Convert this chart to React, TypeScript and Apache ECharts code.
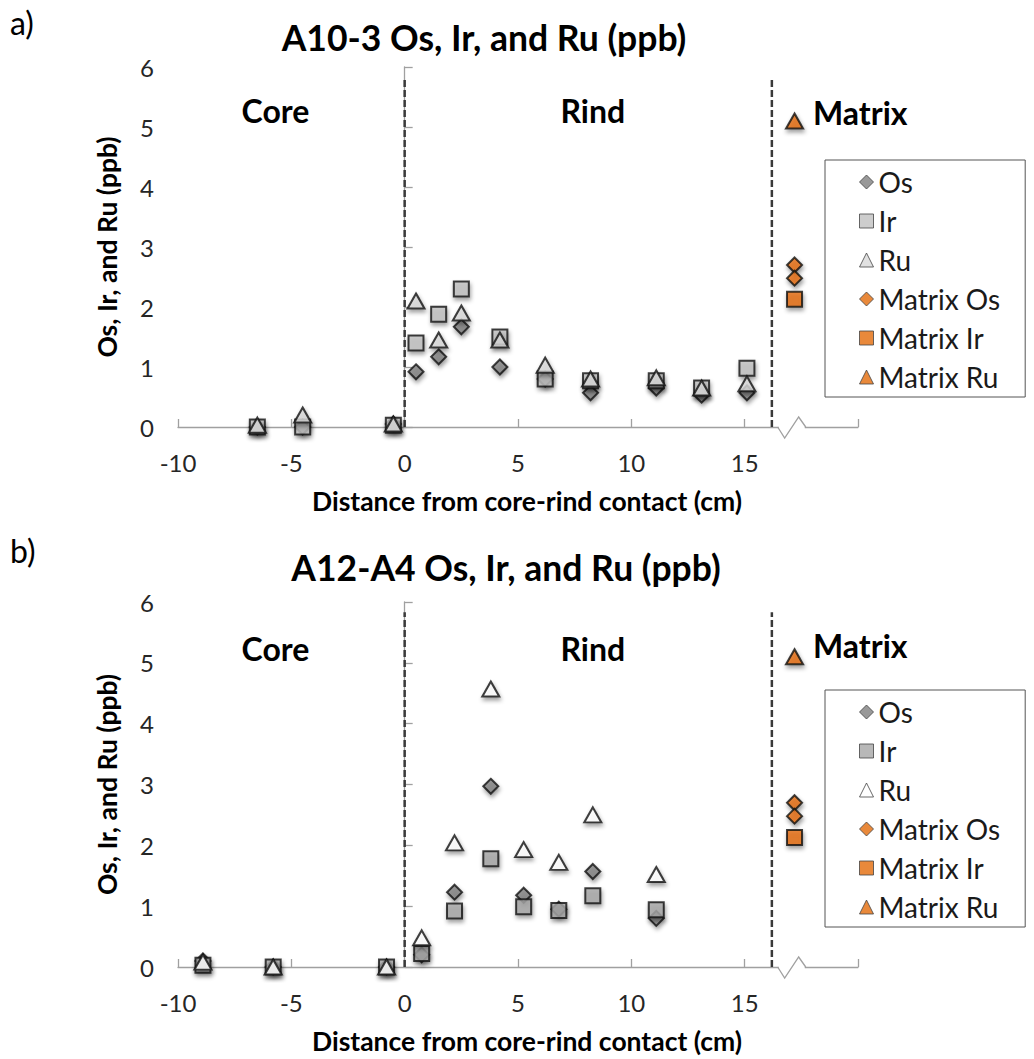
import React, { useEffect, useRef } from "react";
import * as echarts from "echarts";

// ---------- Data ----------
// Panel a) A10-3
const aOs: number[][] = [[-6.5, 0], [-4.5, 0], [-0.5, 0.05], [0.5, 0.92], [1.5, 1.17], [2.5, 1.67], [4.2, 1.0], [6.2, 0.8], [8.2, 0.57], [11.1, 0.65], [13.1, 0.53], [15.1, 0.57]];
const aIr: number[][] = [[-6.5, 0], [-4.5, 0], [-0.5, 0.03], [0.5, 1.4], [1.5, 1.88], [2.5, 2.3], [4.2, 1.5], [6.2, 0.8], [8.2, 0.77], [11.1, 0.77], [13.1, 0.65], [15.1, 0.98]];
const aRu: number[][] = [[-6.5, 0.03], [-4.5, 0.2], [-0.5, 0.05], [0.5, 2.1], [1.5, 1.45], [2.5, 1.9], [4.2, 1.45], [6.2, 1.03], [8.2, 0.8], [11.1, 0.82], [13.1, 0.65], [15.1, 0.72]];
// Panel b) A12-A4
const bOs: number[][] = [[-8.9, 0.1], [-5.8, 0], [-0.8, 0], [0.75, 0.2], [2.2, 1.23], [3.8, 2.97], [5.25, 1.18], [6.8, 0.95], [8.3, 1.57], [11.1, 0.8]];
const bIr: number[][] = [[-8.9, 0.03], [-5.8, 0], [-0.8, 0], [0.75, 0.22], [2.2, 0.92], [3.8, 1.78], [5.25, 0.99], [6.8, 0.93], [8.3, 1.17], [11.1, 0.94]];
const bRu: number[][] = [[-8.9, 0.08], [-5.8, 0], [-0.8, 0], [0.75, 0.48], [2.2, 2.04], [3.8, 4.57], [5.25, 1.93], [6.8, 1.72], [8.3, 2.5], [11.1, 1.52]];
// Matrix (same sample shown in both panels)
const matrixOs: number[][] = [[17.2, 2.7], [17.2, 2.48]];
const matrixIr: number[][] = [[17.2, 2.13]];
const matrixRu: number[][] = [[17.2, 5.1]];

// Boundaries
const contactX = 0;
const matrixBoundaryX = 16.2;
const boundaryTop = 5.83;
const breakStart = 16.5;
const breakEnd = 17.65;

const xMin = -10, xMax = 20, xInterval = 5;
const yMin = 0, yMax = 6, yInterval = 1;

const seriesNames = ["Os", "Ir", "Ru", "Matrix Os", "Matrix Ir", "Matrix Ru"];

const FONT = "Lato";
const ORANGE = "#e46c0a";

type PanelCfg = {
  tag: string;
  title: string;
  os: number[][];
  ir: number[][];
  ru: number[][];
  irColor: string;
  ruColor: string;
  height: number;
  gridTop: number;
  gridHeight: number;
  titleY: number;
  legendTop: number;
  labelY: number;
  matrixY: number;
  xTitleY: number;
  titleX: number;
};

const panels: PanelCfg[] = [
  {
    tag: "a)", title: "A10-3 Os, Ir, and Ru (ppb)", os: aOs, ir: aIr, ru: aRu,
    irColor: "#c0c0c0", ruColor: "#d9d9d9", height: 528, gridTop: 67, gridHeight: 360,
    titleY: 37, legendTop: 160, labelY: 110, matrixY: 112, xTitleY: 501, titleX: 484,
  },
  {
    tag: "b)", title: "A12-A4 Os, Ir, and Ru (ppb)", os: bOs, ir: bIr, ru: bRu,
    irColor: "#a6a6a6", ruColor: "#ffffff", height: 531, gridTop: 74, gridHeight: 365,
    titleY: 39, legendTop: 162, labelY: 120, matrixY: 117, xTitleY: 513, titleX: 506,
  },
];

const shadow = { shadowBlur: 4, shadowColor: "rgba(0,0,0,0.45)", shadowOffsetX: 1, shadowOffsetY: 3 };

function mk(name: string, data: number[][], symbol: string, size: number | number[], color: string) {
  return {
    name, type: "scatter", data, symbol, symbolSize: size, z: 3,
    itemStyle: { color, borderColor: "#111", borderWidth: 2, ...shadow },
    emphasis: { disabled: true },
  };
}

function dashLine(x: number) {
  return {
    type: "line", data: [[x, 0], [x, boundaryTop]], symbol: "none", silent: true, z: 2,
    lineStyle: { color: "#3a3a3a", width: 2.5, type: [7, 3] },
  };
}

function Panel({ cfg }: { cfg: PanelCfg }) {
  const ref = useRef<HTMLDivElement>(null);
  useEffect(() => {
    const chart = echarts.init(ref.current!, null, { renderer: "svg" });
    const axisColor = "#a0a0a0";
    const option: any = {
      animation: false,
      backgroundColor: "#ffffff",
      grid: { left: 178, width: 680, top: cfg.gridTop, height: cfg.gridHeight },
      xAxis: {
        type: "value", min: xMin, max: xMax, interval: xInterval,
        axisLine: { lineStyle: { color: axisColor, width: 1.3 } },
        axisTick: { inside: true, length: 8, lineStyle: { color: axisColor, width: 1.3 } },
        axisLabel: { fontFamily: FONT, fontSize: 24, color: "#262626", margin: 23, formatter: (v: number) => (v === xMax ? "" : String(v)) },
        splitLine: { show: false },
      },
      yAxis: {
        type: "value", min: yMin, max: yMax, interval: yInterval,
        axisLine: { show: true, lineStyle: { color: axisColor, width: 1.3 } },
        axisTick: { show: true, inside: true, length: 8, lineStyle: { color: axisColor, width: 1.3 } },
        axisLabel: { fontFamily: FONT, fontSize: 24, color: "#262626", margin: 24 },
        splitLine: { show: false },
      },
      legend: {
        orient: "vertical", left: 825, top: cfg.legendTop, data: seriesNames,
        itemWidth: 14, itemHeight: 14, itemGap: 11,
        textStyle: { fontFamily: FONT, fontSize: 28, color: "#1a1a1a", lineHeight: 28 },
        borderColor: "#555", borderWidth: 1, padding: [8, 25, 6, 34],
        itemStyle: { borderWidth: 1, borderColor: "#444", shadowBlur: 0, shadowColor: "transparent", shadowOffsetX: 0, shadowOffsetY: 0 },
        selectedMode: false,
      },
      series: [
        dashLine(contactX),
        dashLine(matrixBoundaryX),
        mk("Os", cfg.os, "diamond", 15, "#7f7f7f"),
        mk("Ir", cfg.ir, "rect", 15, cfg.irColor),
        mk("Ru", cfg.ru, "triangle", [17, 15], cfg.ruColor),
        mk("Matrix Os", matrixOs, "diamond", 15, ORANGE),
        mk("Matrix Ir", matrixIr, "rect", 15, ORANGE),
        mk("Matrix Ru", matrixRu, "triangle", [17, 15], ORANGE),
      ],
    };
    chart.setOption(option);

    const [bx1, by] = chart.convertToPixel({ gridIndex: 0 }, [breakStart, 0]) as number[];
    const [bx2] = chart.convertToPixel({ gridIndex: 0 }, [breakEnd, 0]) as number[];
    const [coreX] = chart.convertToPixel({ gridIndex: 0 }, [-5.7, 0]) as number[];
    const [rindX] = chart.convertToPixel({ gridIndex: 0 }, [8.3, 0]) as number[];
    const bold = { fontFamily: FONT, fontWeight: "bold", fill: "#000" };
    chart.setOption({
      graphic: [
        { type: "rect", shape: { x: bx1, y: by - 3, width: bx2 - bx1, height: 6 }, style: { fill: "#fff" }, z: 10 },
        {
          type: "polyline", z: 11,
          shape: { points: [[bx1 - 1, by], [bx1 + 6, by + 11], [bx1 + 20, by - 10], [bx2 + 1, by]] },
          style: { stroke: axisColor, lineWidth: 1.3, fill: "none" },
        },
        { type: "text", x: 10, y: 22, style: { text: cfg.tag, fontFamily: FONT, fontSize: 32, fill: "#000", verticalAlign: "middle" } },
        { type: "text", x: cfg.titleX, y: cfg.titleY, style: { ...bold, text: cfg.title, fontSize: 35.5, align: "center", verticalAlign: "middle" } },
        { type: "text", x: coreX, y: cfg.labelY, style: { ...bold, text: "Core", fontSize: 32, align: "center", verticalAlign: "middle" } },
        { type: "text", x: rindX, y: cfg.labelY, style: { ...bold, text: "Rind", fontSize: 32, align: "center", verticalAlign: "middle" } },
        { type: "text", x: 813, y: cfg.matrixY, style: { ...bold, text: "Matrix", fontSize: 32, align: "left", verticalAlign: "middle" } },
        { type: "text", x: 527, y: cfg.xTitleY, style: { ...bold, text: "Distance from core-rind contact (cm)", fontSize: 26.5, align: "center", verticalAlign: "middle" } },
        {
          type: "text", x: 107, y: cfg.gridTop + cfg.gridHeight / 2, rotation: Math.PI / 2,
          style: { ...bold, text: "Os, Ir, and Ru (ppb)", fontSize: 26.5, align: "center", verticalAlign: "middle" },
        },
      ],
    });
    return () => chart.dispose();
  }, []);
  return <div ref={ref} style={{ width: 1034, height: cfg.height }} />;
}

export default function App() {
  return (
    <div style={{ position: "absolute", left: 0, top: 0, width: 1034, height: 1059, background: "#fff" }}>
      {panels.map((p) => (
        <Panel key={p.tag} cfg={p} />
      ))}
    </div>
  );
}
